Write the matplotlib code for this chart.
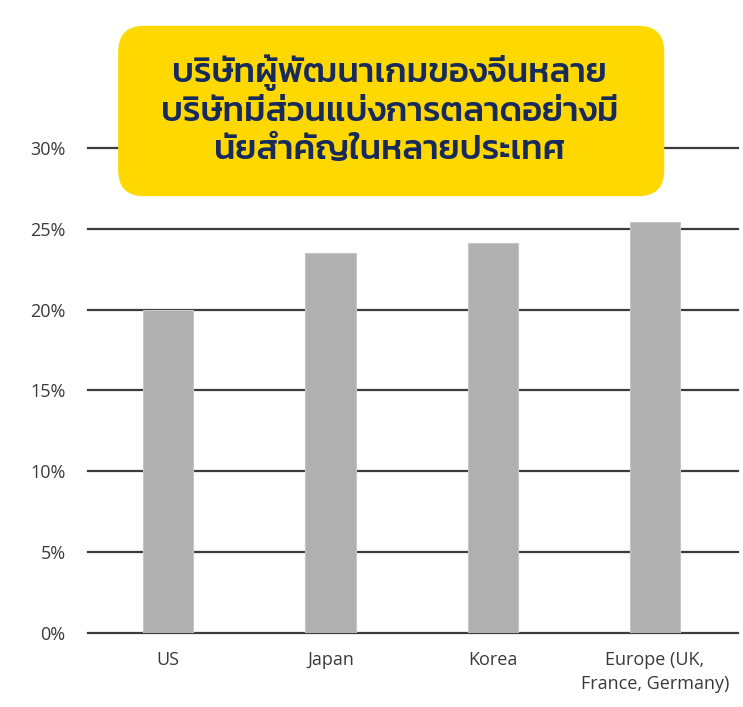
import matplotlib
matplotlib.use('Agg')
import matplotlib.pyplot as plt
from matplotlib.patches import FancyBboxPatch

# ── Données ──────────────────────────────────────────────
regions = ["US", "Japan", "Korea", "Europe (UK,\nFrance, Germany)"]
share   = [20.0, 23.5, 24.1, 25.4]   # % part de marché
yticks  = [0, 5, 10, 15, 20, 25, 30]
title   = ("บริษัทผู้พัฒนาเกมของจีนหลาย\n"
           "บริษัทมีส่วนแบ่งการตลาดอย่างมี\n"
           "นัยสำคัญในหลายประเทศ")

BAR   = "#b0b0b0"
GRID  = "#3c3c3c"
TXT   = "#3a3a3a"
YEL   = "#ffd800"
NAVY  = "#172a5c"

plt.rcParams['font.family'] = ['Open Sans', 'DejaVu Sans']

fig = plt.figure(figsize=(7.43, 7.07), dpi=100)
ax = fig.add_axes([0.1184, 0.1047, 0.8746, 0.686])

x = list(range(len(regions)))
ax.bar(x, share, width=0.31, color=BAR, edgecolor="#c6c6c6", linewidth=0.8, zorder=3)

ax.set_ylim(0, 30)
ax.set_xlim(-0.494, 3.51)
ax.set_yticks(yticks)
ax.set_yticklabels([f"{v}%" for v in yticks])
ax.set_xticks(x)
ax.set_xticklabels(regions, linespacing=1.45)
for v in yticks:
    ax.axhline(v, color=GRID, linewidth=1.6, zorder=1, clip_on=False)

for s in ax.spines.values():
    s.set_visible(False)
ax.tick_params(axis='both', length=0, labelsize=13, labelcolor=TXT)
ax.tick_params(axis='y', pad=16)
ax.tick_params(axis='x', pad=13)

# ── Encadré titre ────────────────────────────────────────
box = FancyBboxPatch((0.159 + 0.03, 0.724 + 0.03), 0.735 - 0.06, 0.238 - 0.06,
                     boxstyle="round,pad=0.03,rounding_size=0.035",
                     transform=fig.transFigure, facecolor=YEL, edgecolor="none",
                     zorder=5, mutation_aspect=743 / 707)
fig.patches.append(box)
fig.text(0.524, 0.8444, title, ha='center', va='center', fontsize=25,
         color=NAVY, linespacing=1.28, zorder=6,
         family=['Kanit', 'Prompt', 'Athiti', 'DejaVu Sans'], weight='medium')

fig.savefig("out.png", dpi=100)
